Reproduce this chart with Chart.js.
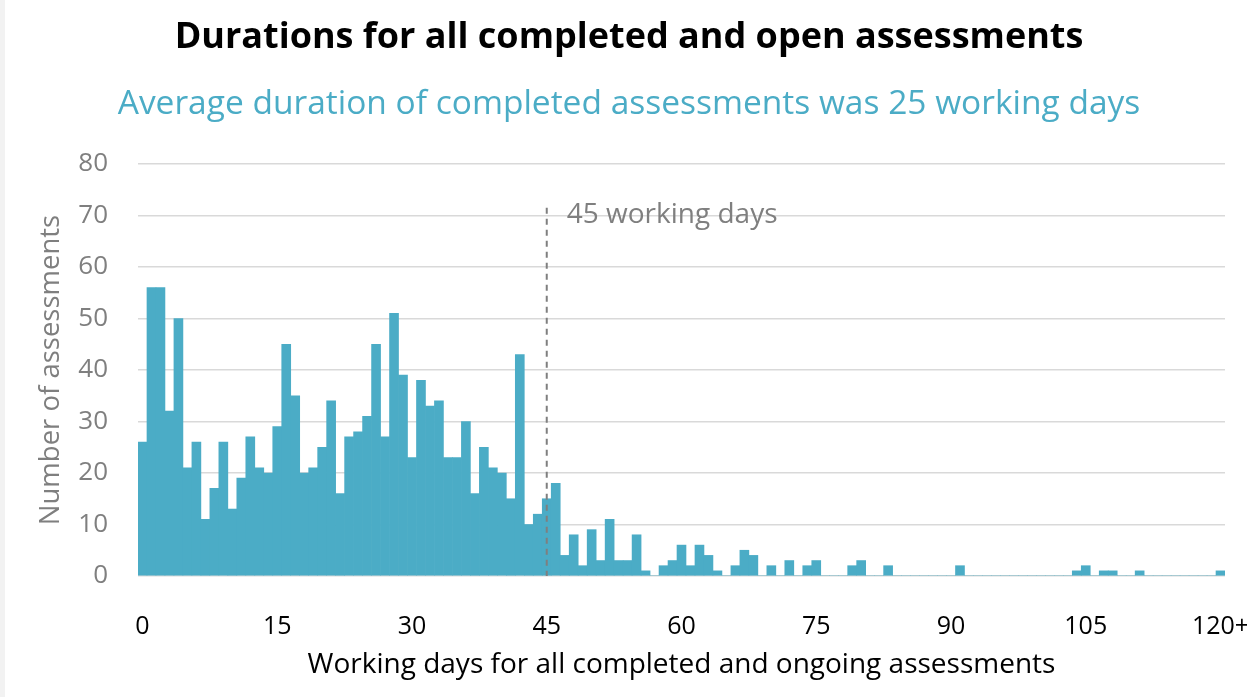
<!DOCTYPE html>
<html>
<head>
<meta charset="utf-8">
<script src="https://cdn.jsdelivr.net/npm/chart.js@4"></script>
<style>
  html, body { margin: 0; padding: 0; background: #fff; }
  #wrap { position: relative; width: 1247px; height: 697px; }
  #strip { position: absolute; left: 0; top: 0; width: 5px; height: 697px; background: #f2f2f2; }
</style>
</head>
<body>
<div id="wrap">
  <canvas id="chart" width="1247" height="697"></canvas>
  <div id="strip"></div>
</div>
<script>
const TITLE = 'Durations for all completed and open assessments'
const SUBTITLE = 'Average duration of completed assessments was 25 working days'

// number of assessments per working day, 0 .. 120+
const counts = [
  26, 56, 56, 32, 50, 21, 26, 11, 17, 26,
  13, 19, 27, 21, 20, 29, 45, 35, 20, 21,
  25, 34, 16, 27, 28, 31, 45, 27, 51, 39,
  23, 38, 33, 34, 23, 23, 30, 16, 25, 21,
  20, 15, 43, 10, 12, 15, 18, 4, 8, 2,
  9, 3, 11, 3, 3, 8, 1, 0, 2, 3,
  6, 2, 6, 4, 1, 0, 2, 5, 4, 0,
  2, 0, 3, 0, 2, 3, 0, 0, 0, 2,
  3, 0, 0, 2, 0, 0, 0, 0, 0, 0,
  0, 2, 0, 0, 0, 0, 0, 0, 0, 0,
  0, 0, 0, 0, 1, 2, 0, 1, 1, 0,
  0, 1, 0, 0, 0, 0, 0, 0, 0, 0,
  1
]
const days = counts.map((_, i) => i)

const xTickDays = [0, 15, 30, 45, 60, 75, 90, 105, 120]
const xTickLabels = ['0', '15', '30', '45', '60', '75', '90', '105', '120+']

const THRESHOLD_DAY = 45
const THRESHOLD_LABEL = '45 working days'

const FONT = '"Open Sans", "Noto Sans", sans-serif'
const BAR_COLOR = '#4bacc6'
const GREY = '#7f7f7f'

const thresholdPlugin = {
  id: 'threshold',
  afterDatasetsDraw (chart) {
    const { ctx, scales: { x, y } } = chart
    const px = x.getPixelForValue(THRESHOLD_DAY)
    ctx.save()
    ctx.strokeStyle = GREY
    ctx.lineWidth = 2
    ctx.setLineDash([6, 5])
    ctx.beginPath()
    ctx.moveTo(px, y.getPixelForValue(71.5))
    ctx.lineTo(px, y.getPixelForValue(0))
    ctx.stroke()
    ctx.setLineDash([])
    ctx.fillStyle = GREY
    ctx.font = '28px ' + FONT
    ctx.textBaseline = 'middle'
    ctx.textAlign = 'left'
    ctx.fillText(THRESHOLD_LABEL, px + 20, y.getPixelForValue(70))
    ctx.restore()
  }
}

new Chart(document.getElementById('chart').getContext('2d'), {
  type: 'bar',
  data: {
    labels: days,
    datasets: [{
      data: counts,
      backgroundColor: BAR_COLOR,
      borderWidth: 0,
      barPercentage: 1.0,
      categoryPercentage: 1.0
    }]
  },
  options: {
    responsive: false,
    animation: false,
    layout: { padding: { left: 11, right: 0, top: 0, bottom: 0 } },
    plugins: {
      legend: { display: false },
      tooltip: { enabled: false },
      title: {
        display: true,
        text: TITLE,
        color: '#000',
        font: { family: FONT, size: 36, weight: 'bold' },
        padding: { top: 16, bottom: 25 }
      },
      subtitle: {
        display: true,
        text: SUBTITLE,
        color: BAR_COLOR,
        font: { family: FONT, size: 33.5 },
        padding: { top: 0, bottom: 39.6 }
      }
    },
    scales: {
      x: {
        grid: { display: false },
        border: { display: false },
        ticks: {
          autoSkip: false,
          maxRotation: 0,
          color: '#000',
          font: { family: FONT, size: 25 },
          padding: 28,
          callback: (value, i) => {
            const k = xTickDays.indexOf(i)
            return k >= 0 ? xTickLabels[k] : ''
          }
        },
        title: {
          display: true,
          text: 'Working days for all completed and ongoing assessments',
          color: '#000',
          font: { family: FONT, size: 28 },
          padding: { top: 0, bottom: 15 }
        },
        afterFit: (scale) => {
          scale.height = 121
          scale.paddingLeft = 0
          scale.paddingRight = 0
        }
      },
      y: {
        min: 0,
        max: 80,
        ticks: {
          stepSize: 10,
          color: GREY,
          font: { family: FONT, size: 26 },
          padding: 30
        },
        grid: { color: '#d9d9d9', lineWidth: 1.5, drawTicks: false },
        border: { display: false },
        title: {
          display: true,
          text: 'Number of assessments',
          color: GREY,
          font: { family: FONT, size: 27.5 },
          padding: { top: 24, bottom: 0 }
        },
        afterFit: (scale) => { scale.width = 127 }
      },
      // empty right margin so the plot ends where the reference's does
      yRight: {
        position: 'right',
        min: 0,
        max: 80,
        grid: { display: false },
        border: { display: false },
        ticks: { display: false },
        afterFit: (scale) => { scale.width = 22 }
      }
    }
  },
  plugins: [thresholdPlugin]
})
</script>
</body>
</html>
